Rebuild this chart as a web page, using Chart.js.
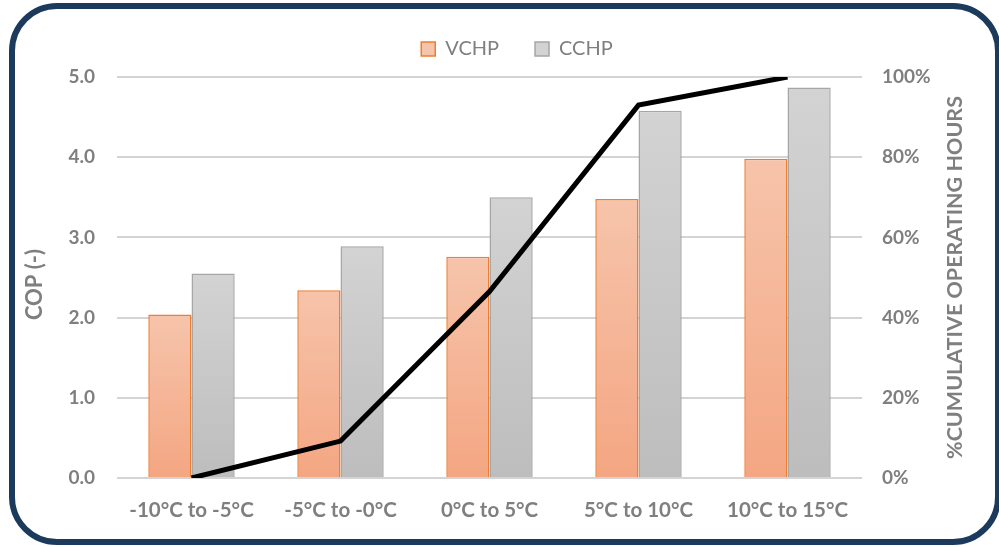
<!DOCTYPE html>
<html>
<head>
<meta charset="utf-8">
<script src="https://cdn.jsdelivr.net/npm/chart.js@4/dist/chart.umd.min.js"></script>
<style>
  html, body { margin: 0; padding: 0; background: #ffffff; }
  #wrap { position: relative; width: 999px; height: 547px; overflow: hidden; background: #ffffff; }
  #frame { position: absolute; left: 9px; top: 3px; width: 992px; height: 542px; box-sizing: border-box;
           border: 6px solid #1B3A5C; border-radius: 48px; background: #ffffff; }
  #c { position: absolute; left: 0; top: 0; }
</style>
</head>
<body>
<div id="wrap">
  <div id="frame"></div>
  <canvas id="c" width="999" height="547"></canvas>
</div>
<script>
const categories = ['-10°C to -5°C', '-5°C to -0°C', '0°C to 5°C', '5°C to 10°C', '10°C to 15°C'];
const vchp = [2.04, 2.34, 2.76, 3.48, 3.98];
const cchp = [2.55, 2.89, 3.50, 4.58, 4.87];
const cumulativeHours = [0, 9.2, 46.5, 93, 100];
const leftTitle = 'COP (-)';
const rightTitle = '%CUMULATIVE OPERATING HOURS';

const GRAY = '#7F7F7F';
const FONT = 'Lato, Calibri, Carlito, sans-serif';

function barGradient(top, bottom, fallback) {
  return (ctx) => {
    const chart = ctx.chart;
    if (!chart.chartArea || !chart.scales.y) return fallback;
    const v = (ctx.raw !== undefined && ctx.raw !== null) ? ctx.raw : 0;
    const y0 = chart.scales.y.getPixelForValue(0);
    const y1 = chart.scales.y.getPixelForValue(v);
    if (!isFinite(y0) || !isFinite(y1) || y0 === y1) return fallback;
    const g = chart.ctx.createLinearGradient(0, y1, 0, y0);
    g.addColorStop(0, top);
    g.addColorStop(1, bottom);
    return g;
  };
}

const legendSpacer = {
  id: 'legendSpacer',
  beforeLayout(chart) {
    const lg = chart.legend;
    if (lg && !lg._spacerPatched) {
      const orig = lg.fit;
      lg.fit = function () { orig.call(this); this.height += 8; };
      lg._spacerPatched = true;
    }
  }
};

const titlesPlugin = {
  id: 'axisTitles',
  afterDraw(chart) {
    const { ctx, chartArea } = chart;
    const cy = (chartArea.top + chartArea.bottom) / 2;
    ctx.save();
    ctx.fillStyle = GRAY;
    ctx.font = 'bold 22px ' + FONT;
    ctx.textAlign = 'center';
    ctx.textBaseline = 'middle';
    ctx.translate(35, cy + 7);
    ctx.rotate(-Math.PI / 2);
    ctx.fillText(leftTitle, 0, 0);
    ctx.restore();

    ctx.save();
    ctx.fillStyle = GRAY;
    ctx.font = 'bold 21.5px ' + FONT;
    ctx.textAlign = 'center';
    ctx.textBaseline = 'middle';
    ctx.translate(955, cy);
    ctx.rotate(-Math.PI / 2);
    ctx.fillText(rightTitle, 0, 0);
    ctx.restore();
  }
};

new Chart(document.getElementById('c'), {
  type: 'bar',
  data: {
    labels: categories,
    datasets: [
      {
        type: 'line',
        label: 'Cumulative',
        data: cumulativeHours,
        yAxisID: 'y1',
        borderColor: '#000000',
        borderWidth: 5,
        pointRadius: 0,
        tension: 0,
        fill: false,
        order: 0
      },
      {
        label: 'VCHP',
        data: vchp,
        yAxisID: 'y',
        backgroundColor: barGradient('#F6C4AB', '#F4A682', '#F4B79B'),
        borderColor: '#ED7D31',
        borderWidth: 1.5,
        categoryPercentage: 0.58,
        barPercentage: 1.0,
        order: 1
      },
      {
        label: 'CCHP',
        data: cchp,
        yAxisID: 'y',
        backgroundColor: barGradient('#D3D3D3', '#BDBDBD', '#C8C8C8'),
        borderColor: '#A6A6A6',
        borderWidth: 1.5,
        categoryPercentage: 0.58,
        barPercentage: 1.0,
        order: 1
      }
    ]
  },
  options: {
    responsive: false,
    animation: false,
    layout: { padding: { left: 35, right: 0, top: 3, bottom: 0 } },
    plugins: {
      tooltip: { enabled: false },
      legend: {
        display: true,
        position: 'top',
        labels: {
          filter: (item) => item.text !== 'Cumulative',
          boxWidth: 14,
          boxHeight: 14,
          padding: 36,
          color: GRAY,
          font: { family: FONT, size: 20 }
        }
      }
    },
    scales: {
      x: {
        grid: { display: false, drawTicks: false },
        border: { display: false },
        ticks: {
          color: GRAY,
          font: { family: FONT, size: 20.5, weight: 'bold' },
          padding: 20,
          maxRotation: 0
        },
        afterFit: (s) => { s.height = 69; }
      },
      y: {
        position: 'left',
        min: 0,
        max: 5,
        grid: { color: '#D4D4D4', lineWidth: 2, drawTicks: false },
        border: { display: false },
        ticks: {
          stepSize: 1,
          color: GRAY,
          font: { family: FONT, size: 19, weight: 'bold' },
          padding: 22,
          callback: (v) => Number(v).toFixed(1)
        },
        afterFit: (s) => { s.width = 82; }
      },
      y1: {
        position: 'right',
        min: 0,
        max: 100,
        grid: { display: false, drawTicks: false },
        border: { display: false },
        ticks: {
          stepSize: 20,
          color: GRAY,
          font: { family: FONT, size: 19, weight: 'bold' },
          padding: 20,
          callback: (v) => v + '%'
        },
        afterFit: (s) => { s.width = 137; }
      }
    }
  },
  plugins: [legendSpacer, titlesPlugin]
});
</script>
</body>
</html>
